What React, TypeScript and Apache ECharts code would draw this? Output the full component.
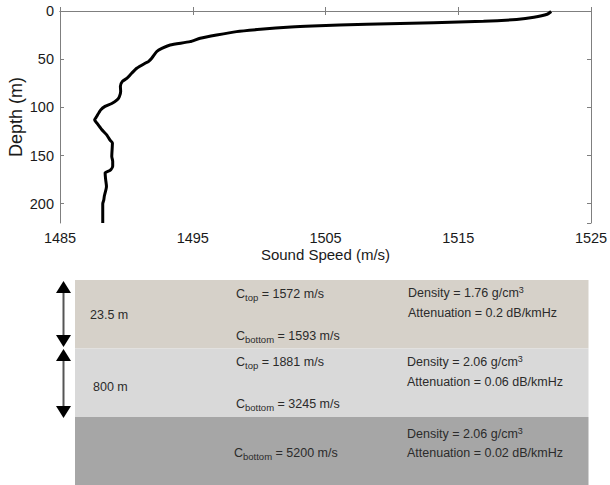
import React, { useEffect, useRef } from "react";
import * as echarts from "echarts";

// Sound speed profile (depth in m, speed in m/s)
const depths = [0.5, 3.4, 6.5, 8.7, 10.7, 12.1, 13.8, 15.5, 16.5, 19, 21.4, 24.9, 28.3, 31.8, 35.2, 38.7, 42, 49, 52.5, 54.2, 59.4, 64.6, 70, 73, 78, 83.6, 89, 92, 96, 99, 102.6, 109.5, 113, 116, 123, 128.5, 134, 137, 151, 156, 161, 165.5, 168, 175, 182, 192, 196, 200, 220];
const speeds = [1522.0, 1521.7, 1520.7, 1519.4, 1516.9, 1513.15, 1508.1, 1504.0, 1502.4, 1500.1, 1498.3, 1496.8, 1495.56, 1494.8, 1493.3, 1492.67, 1492.29, 1491.91, 1491.66, 1491.41, 1490.78, 1490.4, 1490.03, 1489.7, 1489.55, 1489.57, 1489.47, 1489.32, 1488.9, 1488.39, 1488.07, 1487.76, 1487.61, 1487.76, 1488.14, 1488.52, 1488.77, 1488.95, 1488.9, 1488.97, 1488.97, 1488.77, 1488.4, 1488.44, 1488.5, 1488.34, 1488.3, 1488.22, 1488.22];

const xTicks = { min: 1485, max: 1525, interval: 10 };
const yTicks = { min: 0, max: 220, interval: 50 };

// Seabed layers
const layerThickness = ["23.5 m", "800 m", ""];
const layerCtop = ["1572", "1881", ""];
const layerCbottom = ["1593", "3245", "5200"];
const layerDensity = ["1.76", "2.06", "2.06"];
const layerAttenuation = ["0.2", "0.06", "0.02"];
const layerColors = ["#d6d1c9", "#d9d9d9", "#a6a6a6"];

const FONT = "Liberation Sans, Arial, sans-serif";
const TXT = "#2b2b2b";

export default function App() {
  const ref = useRef<HTMLDivElement>(null);
  useEffect(() => {
    if (!ref.current) return;
    const chart = echarts.init(ref.current, undefined, { renderer: "svg" });
    const data = depths.map((d, i) => [speeds[i], d]);

    const rich = {
      n: { fontSize: 12.5, fontFamily: FONT, color: TXT, lineHeight: 16 },
      sub: { fontSize: 9.5, fontFamily: FONT, color: TXT, verticalAlign: "bottom", lineHeight: 10 },
      sup: { fontSize: 9, fontFamily: FONT, color: TXT, verticalAlign: "top", lineHeight: 10 },
    };
    const txt = (x: number, y: number, text: string) => ({
      type: "text",
      x,
      y,
      style: { text, rich, fontSize: 12.5, fontFamily: FONT, fill: TXT, align: "left", verticalAlign: "middle" },
    });

    const bandTop = [280, 348.5, 417];
    const bandBottom = [348.5, 417, 485];
    const ctopY = [294, 362];
    const cbotY = [336, 404, 453];
    const densY = [293, 362, 434];
    const attY = [313, 382, 453];
    const thickY = [315, 387];
    const thickX = [90, 93];

    const graphics: any[] = [];
    layerColors.forEach((c, i) => {
      graphics.push({
        type: "rect",
        shape: { x: 75, y: bandTop[i], width: 513.5, height: bandBottom[i] - bandTop[i] },
        style: { fill: c },
        z: 0,
      });
    });
    // arrows
    const arrows = [[281, 347], [349, 418]];
    arrows.forEach(([a, b]) => {
      graphics.push({ type: "line", shape: { x1: 63.5, y1: a + 8, x2: 63.5, y2: b - 8 }, style: { stroke: "#555", lineWidth: 2 } });
      graphics.push({ type: "polygon", shape: { points: [[63.5, a], [56, a + 12], [71, a + 12]] }, style: { fill: "#000" } });
      graphics.push({ type: "polygon", shape: { points: [[56, b - 12], [71, b - 12], [63.5, b]] }, style: { fill: "#000" } });
    });
    layerThickness.forEach((t, i) => {
      if (t) graphics.push(txt(thickX[i], thickY[i], `{n|${t}}`));
    });
    layerCtop.forEach((v, i) => {
      if (v) graphics.push(txt(236, ctopY[i], `{n|C}{sub|top}{n| = ${v} m/s}`));
    });
    layerCbottom.forEach((v, i) => {
      graphics.push(txt(i === 2 ? 234 : 236, cbotY[i], `{n|C}{sub|bottom}{n| = ${v} m/s}`));
    });
    layerDensity.forEach((v, i) => {
      graphics.push(txt(i === 0 ? 408 : 407, densY[i], `{n|Density = ${v} g/cm}{sup|3}`));
    });
    layerAttenuation.forEach((v, i) => {
      graphics.push(txt(i === 0 ? 408 : 407, attY[i], `{n|Attenuation = ${v} dB/kmHz}`));
    });

    const axisLine = { show: true, lineStyle: { color: "#7f7f7f", width: 1 } };
    const axisTick = { show: true, inside: true, length: 4, lineStyle: { color: "#7f7f7f" } };
    const plain = (v: number) => String(v);

    chart.setOption({
      animation: false,
      grid: { left: 60, right: 19, top: 11, height: 212, show: false, containLabel: false, outerBoundsMode: "none" },
      xAxis: [
        {
          type: "value",
          min: xTicks.min,
          max: xTicks.max,
          interval: xTicks.interval,
          position: "bottom",
          axisLine,
          axisTick,
          splitLine: { show: false },
          axisLabel: { fontSize: 14.5, fontFamily: FONT, color: "#1a1a1a", margin: 7, formatter: plain },
          name: "Sound Speed (m/s)",
          nameLocation: "middle",
          nameGap: 24,
          nameMoveOverlap: false,
          nameTextStyle: { fontSize: 15, fontFamily: FONT, color: "#1a1a1a" },
        },
        {
          type: "value",
          min: xTicks.min,
          max: xTicks.max,
          interval: xTicks.interval,
          position: "top",
          axisLine,
          axisTick,
          splitLine: { show: false },
          axisLabel: { show: false },
        },
      ],
      yAxis: [
        {
          type: "value",
          inverse: true,
          min: yTicks.min,
          max: yTicks.max,
          interval: yTicks.interval,
          position: "left",
          axisLine,
          axisTick,
          splitLine: { show: false },
          axisLabel: { fontSize: 14.5, fontFamily: FONT, color: "#1a1a1a", margin: 6, showMaxLabel: false, formatter: plain },
          name: "Depth (m)",
          nameLocation: "middle",
          nameGap: 35,
          nameMoveOverlap: false,
          nameTextStyle: { fontSize: 18, fontFamily: FONT, color: "#1a1a1a" },
        },
        {
          type: "value",
          inverse: true,
          min: yTicks.min,
          max: yTicks.max,
          interval: yTicks.interval,
          position: "right",
          axisLine,
          axisTick,
          splitLine: { show: false },
          axisLabel: { show: false },
        },
      ],
      series: [
        {
          type: "line",
          data,
          xAxisIndex: 0,
          yAxisIndex: 0,
          showSymbol: false,
          smooth: 0.2,
          lineStyle: { color: "#000", width: 3 },
          clip: true,
        },
      ],
      graphic: graphics,
    });
    return () => chart.dispose();
  }, []);
  return (
    <div
      ref={ref}
      style={{ position: "fixed", left: 0, top: 0, width: 610, height: 485, background: "#fff" }}
    />
  );
}
